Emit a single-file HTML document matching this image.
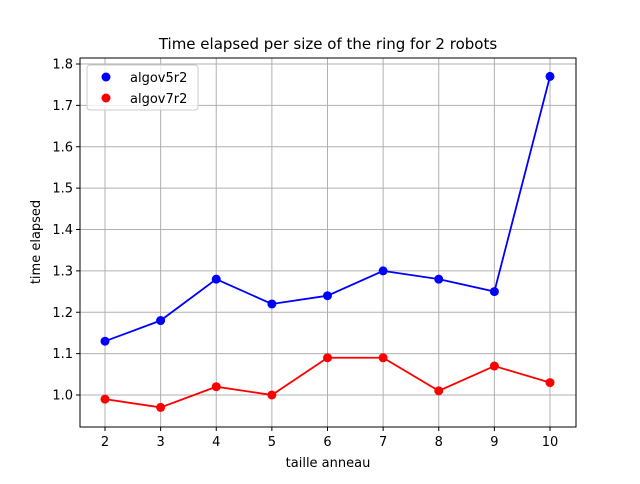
<!DOCTYPE html>
<html><head><meta charset="utf-8"><style>
body{margin:0;background:#fff;font-family:"DejaVu Sans","Liberation Sans",sans-serif;}
</style></head><body>
<svg id="c" width="640" height="480" xmlns="http://www.w3.org/2000/svg">
<rect width="640" height="480" fill="#fff"/>
<g id="grid"></g>
<g id="lines"></g>
<rect x="80" y="58" width="496" height="369" fill="none" stroke="#000" stroke-width="1"/>
<g id="ticks" font-size="13" fill="#000"></g>
<text x="328" y="49" text-anchor="middle" font-size="15">Time elapsed per size of the ring for 2 robots</text>
<text x="328" y="467" text-anchor="middle" font-size="13">taille anneau</text>
<text x="40" y="242" text-anchor="middle" font-size="13" transform="rotate(-90 40 242)">time elapsed</text>
<g>
<rect x="87" y="65" width="111" height="45" rx="3" fill="#fff" fill-opacity="0.8" stroke="#ccc"/>
<g><circle cx="106" cy="77" r="4.5" fill="blue"/><text x="130" y="82" font-size="13">algov5r2</text></g>
<g><circle cx="106" cy="98" r="4.5" fill="red"/><text x="130" y="103" font-size="13">algov7r2</text></g>
</g>
</svg>
<script>
const categories=[2,3,4,5,6,7,8,9,10];
const algov5r2=[1.13,1.18,1.28,1.22,1.24,1.30,1.28,1.25,1.77];
const algov7r2=[0.99,0.97,1.02,1.00,1.09,1.09,1.01,1.07,1.03];
const yTicks=[1.0,1.1,1.2,1.3,1.4,1.5,1.6,1.7,1.8];
const NS="http://www.w3.org/2000/svg";
function xs(v){return 105+(v-2)*(550-105)/8;}
function ys(v){return 395-(v-1.0)*(395-64)/0.8;}
function mk(t,a,p){const e=document.createElementNS(NS,t);for(const k in a)e.setAttribute(k,a[k]);p.appendChild(e);return e;}
const g=document.getElementById('grid'),tk=document.getElementById('ticks'),ln=document.getElementById('lines');
categories.forEach(c=>{const x=xs(c);
const l=mk('line',{x1:x,x2:x,y1:58,y2:427,stroke:'#b0b0b0','stroke-width':1},g);


mk('line',{x1:x,x2:x,y1:427,y2:431,stroke:'#000'},tk);
const t=mk('text',{x:x,y:446,'text-anchor':'middle'},tk);t.textContent=c;

});
yTicks.forEach(v=>{const y=ys(v);
const l=mk('line',{x1:80,x2:576,y1:y,y2:y,stroke:'#b0b0b0','stroke-width':1},g);


mk('line',{x1:76,x2:80,y1:y,y2:y,stroke:'#000'},tk);
const t=mk('text',{x:73,y:y+4.5,'text-anchor':'end'},tk);t.textContent=v.toFixed(1);

});
function series(vals,col,name){
const p=mk('polyline',{points:vals.map((v,i)=>xs(categories[i])+','+ys(v)).join(' '),fill:'none',stroke:col,'stroke-width':1.8},ln);


vals.forEach((v,i)=>{const c=mk('circle',{cx:xs(categories[i]),cy:ys(v),r:4.5,fill:col},ln);

});}
series(algov5r2,'blue','algov5r2');
series(algov7r2,'red','algov7r2');
</script>
</body></html>
